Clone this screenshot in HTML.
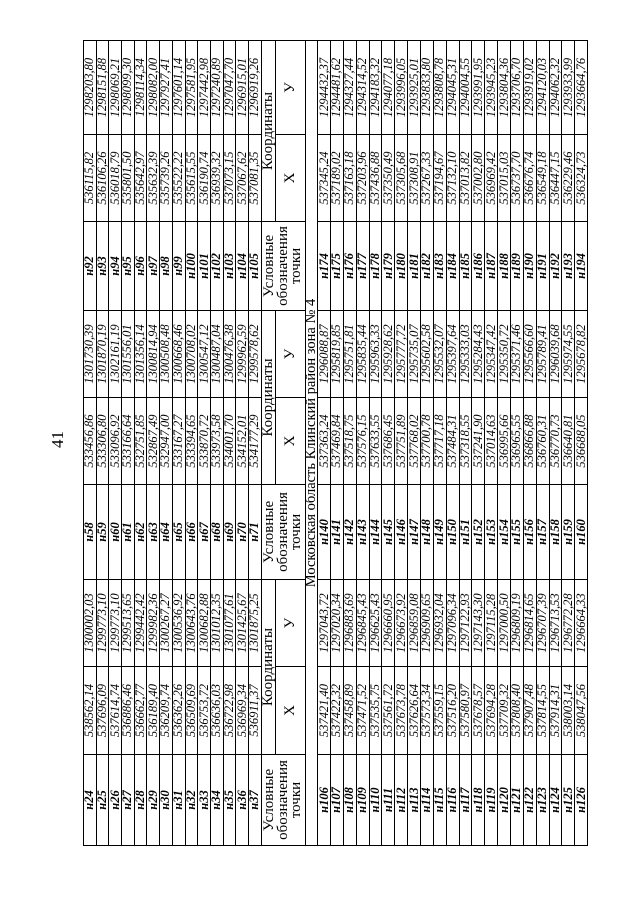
<!DOCTYPE html>
<html><head><meta charset="utf-8">
<style>
html,body{margin:0;padding:0;background:#fff;}
body{width:640px;height:905px;position:relative;overflow:hidden;}
#wrap{position:absolute;left:83px;top:846px;width:805px;height:504px;transform-origin:0 0;transform:rotate(-90deg);}
table{border-collapse:collapse;table-layout:fixed;width:805px;font-family:"Liberation Serif",serif;color:#000;}
td{border:1px solid #000;padding:0;text-align:center;overflow:hidden;white-space:nowrap;}
tr.a td{height:11.7px;line-height:11px;font-size:12.5px;font-style:italic;}
tr.b td{height:11.86px;line-height:11px;font-size:12.5px;font-style:italic;}
td.p{font-weight:bold;font-size:11.5px;}
.h td{font-size:15px;line-height:13.5px;font-style:normal;}
.m td{height:11px;line-height:11px;font-size:14.5px;border-left:1px solid #000;border-right:1px solid #000;}
#pg{position:absolute;left:398px;top:-35px;font-family:"Liberation Serif",serif;font-size:17px;}
</style></head><body>
<div id="wrap">
<div id="pg">41</div>
<table>
<colgroup><col style="width:91px"><col style="width:88px"><col style="width:87px"><col style="width:95px"><col style="width:87px"><col style="width:87px"><col style="width:89px"><col style="width:87px"><col style="width:94px"></colgroup>
<tr class="a"><td class="p">н24</td><td>538562,14</td><td>1300002,03</td><td class="p">н58</td><td>533456,86</td><td>1301730,39</td><td class="p">н92</td><td>536115,82</td><td>1298203,80</td></tr>
<tr class="a"><td class="p">н25</td><td>537696,09</td><td>1299773,10</td><td class="p">н59</td><td>533306,80</td><td>1301870,19</td><td class="p">н93</td><td>536106,26</td><td>1298151,88</td></tr>
<tr class="a"><td class="p">н26</td><td>537614,74</td><td>1299773,10</td><td class="p">н60</td><td>533096,92</td><td>1302161,19</td><td class="p">н94</td><td>536018,79</td><td>1298069,21</td></tr>
<tr class="a"><td class="p">н27</td><td>536886,46</td><td>1299513,65</td><td class="p">н61</td><td>533166,64</td><td>1301556,01</td><td class="p">н95</td><td>535801,50</td><td>1298099,30</td></tr>
<tr class="a"><td class="p">н28</td><td>536662,77</td><td>1299442,42</td><td class="p">н62</td><td>532751,85</td><td>1301356,14</td><td class="p">н96</td><td>535642,97</td><td>1298114,34</td></tr>
<tr class="a"><td class="p">н29</td><td>536189,40</td><td>1299982,36</td><td class="p">н63</td><td>532867,49</td><td>1300814,94</td><td class="p">н97</td><td>535632,39</td><td>1298082,00</td></tr>
<tr class="a"><td class="p">н30</td><td>536209,74</td><td>1300267,27</td><td class="p">н64</td><td>532947,00</td><td>1300508,48</td><td class="p">н98</td><td>535739,26</td><td>1297927,41</td></tr>
<tr class="a"><td class="p">н31</td><td>536362,26</td><td>1300536,92</td><td class="p">н65</td><td>533167,27</td><td>1300668,46</td><td class="p">н99</td><td>535522,22</td><td>1297601,14</td></tr>
<tr class="a"><td class="p">н32</td><td>536509,69</td><td>1300643,76</td><td class="p">н66</td><td>533394,65</td><td>1300708,02</td><td class="p">н100</td><td>535615,55</td><td>1297581,95</td></tr>
<tr class="a"><td class="p">н33</td><td>536753,72</td><td>1300682,88</td><td class="p">н67</td><td>533870,72</td><td>1300547,12</td><td class="p">н101</td><td>536190,74</td><td>1297442,98</td></tr>
<tr class="a"><td class="p">н34</td><td>536636,03</td><td>1301012,35</td><td class="p">н68</td><td>533973,58</td><td>1300487,04</td><td class="p">н102</td><td>536939,32</td><td>1297240,89</td></tr>
<tr class="a"><td class="p">н35</td><td>536722,98</td><td>1301077,61</td><td class="p">н69</td><td>534001,70</td><td>1300476,38</td><td class="p">н103</td><td>537073,15</td><td>1297047,70</td></tr>
<tr class="a"><td class="p">н36</td><td>536969,34</td><td>1301425,67</td><td class="p">н70</td><td>534152,01</td><td>1299962,59</td><td class="p">н104</td><td>537067,62</td><td>1296915,01</td></tr>
<tr class="a"><td class="p">н37</td><td>536911,37</td><td>1301875,25</td><td class="p">н71</td><td>534177,29</td><td>1299578,62</td><td class="p">н105</td><td>537081,35</td><td>1296919,26</td></tr>
<tr class="h"><td rowspan="2" style="height:43px">Условные<br>обозначения<br>точки</td><td colspan="2" style="height:13px">Координаты</td><td rowspan="2">Условные<br>обозначения<br>точки</td><td colspan="2">Координаты</td><td rowspan="2">Условные<br>обозначения<br>точки</td><td colspan="2">Координаты</td></tr>
<tr class="h"><td style="height:29px">X</td><td>У</td><td>X</td><td>У</td><td>X</td><td>У</td></tr>
<tr class="m"><td colspan="9">Московская область Клинский район зона № 4</td></tr>
<tr class="b"><td class="p">н106</td><td>537421,40</td><td>1297043,72</td><td class="p">н140</td><td>537363,24</td><td>1296088,87</td><td class="p">н174</td><td>537345,24</td><td>1294432,37</td></tr>
<tr class="b"><td class="p">н107</td><td>537422,32</td><td>1297020,34</td><td class="p">н141</td><td>537469,84</td><td>1295819,85</td><td class="p">н175</td><td>537189,02</td><td>1294481,62</td></tr>
<tr class="b"><td class="p">н108</td><td>537458,89</td><td>1296883,69</td><td class="p">н142</td><td>537518,75</td><td>1295751,81</td><td class="p">н176</td><td>537163,18</td><td>1294327,44</td></tr>
<tr class="b"><td class="p">н109</td><td>537471,52</td><td>1296845,43</td><td class="p">н143</td><td>537576,15</td><td>1295835,44</td><td class="p">н177</td><td>537203,96</td><td>1294314,52</td></tr>
<tr class="b"><td class="p">н110</td><td>537535,75</td><td>1296625,43</td><td class="p">н144</td><td>537633,55</td><td>1295963,33</td><td class="p">н178</td><td>537436,88</td><td>1294183,32</td></tr>
<tr class="b"><td class="p">н111</td><td>537561,72</td><td>1296660,95</td><td class="p">н145</td><td>537686,45</td><td>1295928,62</td><td class="p">н179</td><td>537350,49</td><td>1294077,18</td></tr>
<tr class="b"><td class="p">н112</td><td>537673,78</td><td>1296673,92</td><td class="p">н146</td><td>537751,89</td><td>1295777,72</td><td class="p">н180</td><td>537305,68</td><td>1293996,05</td></tr>
<tr class="b"><td class="p">н113</td><td>537626,64</td><td>1296859,08</td><td class="p">н147</td><td>537768,02</td><td>1295735,07</td><td class="p">н181</td><td>537308,91</td><td>1293925,01</td></tr>
<tr class="b"><td class="p">н114</td><td>537573,34</td><td>1296909,65</td><td class="p">н148</td><td>537700,78</td><td>1295602,58</td><td class="p">н182</td><td>537267,33</td><td>1293833,80</td></tr>
<tr class="b"><td class="p">н115</td><td>537559,15</td><td>1296932,04</td><td class="p">н149</td><td>537717,18</td><td>1295532,07</td><td class="p">н183</td><td>537194,67</td><td>1293808,78</td></tr>
<tr class="b"><td class="p">н116</td><td>537516,20</td><td>1297096,34</td><td class="p">н150</td><td>537484,31</td><td>1295397,64</td><td class="p">н184</td><td>537132,10</td><td>1294045,31</td></tr>
<tr class="b"><td class="p">н117</td><td>537580,97</td><td>1297122,93</td><td class="p">н151</td><td>537318,55</td><td>1295333,03</td><td class="p">н185</td><td>537013,82</td><td>1294004,55</td></tr>
<tr class="b"><td class="p">н118</td><td>537678,57</td><td>1297143,30</td><td class="p">н152</td><td>537241,90</td><td>1295284,43</td><td class="p">н186</td><td>537002,80</td><td>1293991,95</td></tr>
<tr class="b"><td class="p">н119</td><td>537694,28</td><td>1297115,28</td><td class="p">н153</td><td>537014,63</td><td>1295347,42</td><td class="p">н187</td><td>536969,42</td><td>1293945,23</td></tr>
<tr class="b"><td class="p">н120</td><td>537709,32</td><td>1297000,50</td><td class="p">н154</td><td>536995,66</td><td>1295350,72</td><td class="p">н188</td><td>537015,03</td><td>1293804,36</td></tr>
<tr class="b"><td class="p">н121</td><td>537808,40</td><td>1296809,19</td><td class="p">н155</td><td>536965,55</td><td>1295371,46</td><td class="p">н189</td><td>536737,70</td><td>1293706,70</td></tr>
<tr class="b"><td class="p">н122</td><td>537907,48</td><td>1296814,65</td><td class="p">н156</td><td>536866,88</td><td>1295566,60</td><td class="p">н190</td><td>536676,74</td><td>1293919,02</td></tr>
<tr class="b"><td class="p">н123</td><td>537814,55</td><td>1296707,39</td><td class="p">н157</td><td>536760,31</td><td>1295789,41</td><td class="p">н191</td><td>536549,18</td><td>1294120,03</td></tr>
<tr class="b"><td class="p">н124</td><td>537914,31</td><td>1296713,53</td><td class="p">н158</td><td>536770,73</td><td>1296039,68</td><td class="p">н192</td><td>536447,15</td><td>1294062,32</td></tr>
<tr class="b"><td class="p">н125</td><td>538003,14</td><td>1296772,28</td><td class="p">н159</td><td>536640,81</td><td>1295974,55</td><td class="p">н193</td><td>536229,46</td><td>1293933,99</td></tr>
<tr class="b"><td class="p">н126</td><td>538047,56</td><td>1296664,33</td><td class="p">н160</td><td>536688,05</td><td>1295678,82</td><td class="p">н194</td><td>536324,73</td><td>1293664,76</td></tr>
</table>
</div>
</body></html>
